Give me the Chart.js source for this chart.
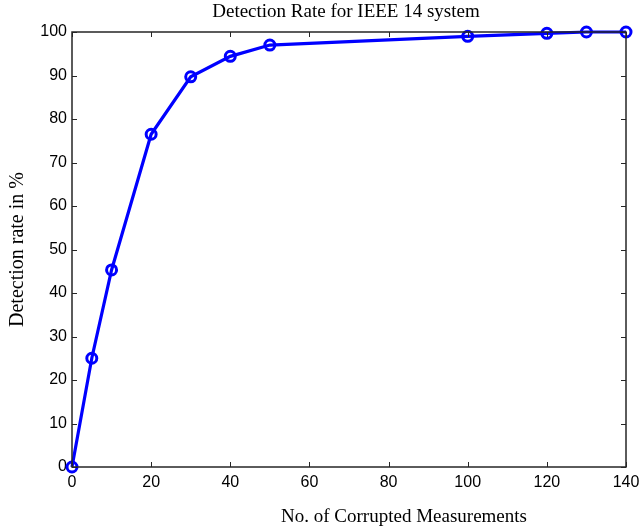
<!DOCTYPE html>
<html>
<head>
<meta charset="utf-8">
<script src="https://cdn.jsdelivr.net/npm/chart.js@4/dist/chart.umd.min.js"></script>
<style>
  html, body { margin: 0; padding: 0; background: #fff; }
  #wrap { width: 640px; height: 531px; }
</style>
</head>
<body>
<div id="wrap"><canvas id="chDetect"></canvas></div>
<script>
// data
var corrupted = [0, 5, 10, 20, 30, 40, 50, 100, 120, 130, 140];
var detectRate = [0, 25, 45.3, 76.5, 89.7, 94.4, 97, 99, 99.7, 100, 100];
var xTicks = [0, 20, 40, 60, 80, 100, 120, 140];
var yTicks = [0, 10, 20, 30, 40, 50, 60, 70, 80, 90, 100];
var titleText = 'Detection Rate for IEEE 14 system';
var xLabel = 'No. of Corrupted Measurements';
var yLabel = 'Detection rate in %';

var points = corrupted.map(function (x, i) { return {x: x, y: detectRate[i]}; });
var serif = "'Liberation Serif', 'Times New Roman', serif";

// matlab style box with inward ticks on all four sides, plus title / x label
// (matlab puts them off the plot centre, so they are drawn here)
var boxTicks = {
  id: 'boxTicks',
  afterDraw: function (chart) {
    var ctx = chart.ctx, a = chart.chartArea;
    var xs = chart.scales.x, ys = chart.scales.y;
    var len = 5;
    ctx.save();
    ctx.strokeStyle = '#262626';
    ctx.lineWidth = 1;
    ctx.beginPath();
    xTicks.forEach(function (v) {
      var px = Math.round(xs.getPixelForValue(v)) + 0.5;
      ctx.moveTo(px, a.bottom); ctx.lineTo(px, a.bottom - len);
      ctx.moveTo(px, a.top); ctx.lineTo(px, a.top + len);
    });
    yTicks.forEach(function (v) {
      var py = Math.round(ys.getPixelForValue(v)) + 0.5;
      ctx.moveTo(a.left, py); ctx.lineTo(a.left + len, py);
      ctx.moveTo(a.right, py); ctx.lineTo(a.right - len, py);
    });
    ctx.stroke();
    ctx.lineWidth = 1.5;
    ctx.strokeRect(a.left, a.top, a.right - a.left, a.bottom - a.top);

    ctx.fillStyle = '#000';
    ctx.textAlign = 'center';
    ctx.textBaseline = 'alphabetic';
    ctx.font = '19px ' + serif;
    ctx.fillText(titleText, 346, 17);
    ctx.fillText(xLabel, 404, 522);
    ctx.restore();
  }
};

var tickFont = {family: "'Liberation Sans', Arial, sans-serif", size: 16};

new Chart(document.getElementById('chDetect'), {
  type: 'line',
  data: {
    datasets: [{
      data: points,
      borderColor: '#0000ff',
      borderWidth: 3.2,
      pointRadius: 5,
      pointHoverRadius: 5,
      pointBorderWidth: 3,
      pointBorderColor: '#0000ff',
      pointBackgroundColor: 'rgba(0,0,0,0)',
      tension: 0,
      clip: false
    }]
  },
  options: {
    responsive: true,
    maintainAspectRatio: false,
    animation: false,
    layout: {padding: {left: 0, right: 14, top: 32, bottom: 0}},
    plugins: {
      legend: {display: false},
      tooltip: {enabled: false},
      title: {display: false}
    },
    scales: {
      x: {
        type: 'linear',
        min: 0, max: 140,
        afterBuildTicks: function (s) { s.ticks = xTicks.map(function (v) { return {value: v}; }); },
        afterFit: function (s) { s.height = 64; s.paddingLeft = 0; s.paddingRight = 0; },
        grid: {display: false, drawTicks: false},
        border: {display: false},
        ticks: {color: '#000', font: tickFont, padding: 6, maxRotation: 0}
      },
      y: {
        min: 0, max: 100,
        afterBuildTicks: function (s) { s.ticks = yTicks.map(function (v) { return {value: v}; }); },
        afterFit: function (s) { s.width = 72; s.paddingTop = 0; s.paddingBottom = 0; },
        grid: {display: false, drawTicks: false},
        border: {display: false},
        ticks: {color: '#000', font: tickFont, padding: 5},
        title: {display: true, text: yLabel, color: '#000', font: {family: serif, size: 20}, padding: {top: 6}}
      }
    }
  },
  plugins: [boxTicks]
});
</script>
</body>
</html>
